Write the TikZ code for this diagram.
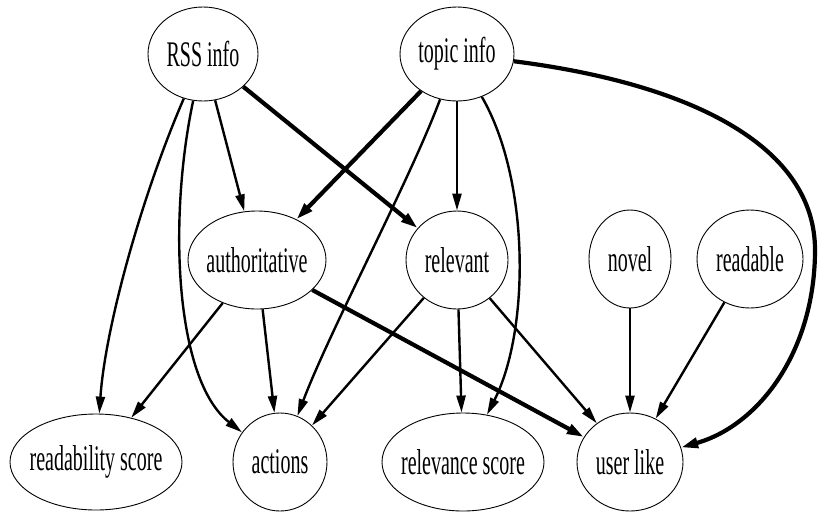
\documentclass[tikz,border=0pt]{standalone}
\usepackage{fontspec}
\setmainfont{Liberation Serif}
\usetikzlibrary{shapes.geometric,arrows.meta}

\begin{document}
\begin{tikzpicture}[x=1pt,y=-1pt,
  var/.style={ellipse,draw,line width=0.9pt,inner sep=0pt},
  edge/.style={-{Triangle[length=17pt,width=9pt]},line width=2.4pt},
  heavy/.style={-{Triangle[length=17pt,width=10pt]},line width=4.2pt},
]
\useasboundingbox (0,0) rectangle (819,512);
\newcommand\nodetext[1]{\makebox[0pt]{\raisebox{-2pt}{\scalebox{1}[1.8]{\fontsize{20}{20}\selectfont #1}}}}

% variables
\node[var,minimum width=110pt,minimum height=94pt] (rss)      at (203,54)  {\nodetext{RSS info}};
\node[var,minimum width=114pt,minimum height=94pt] (topic)    at (457,54)  {\nodetext{topic info}};
\node[var,minimum width=138pt,minimum height=98pt] (auth)     at (257,260) {\nodetext{authoritative}};
\node[var,minimum width=102pt,minimum height=98pt] (relevant) at (457,260) {\nodetext{relevant}};
\node[var,minimum width=82pt, minimum height=98pt] (novel)    at (630,259) {\nodetext{novel}};
\node[var,minimum width=106pt,minimum height=98pt] (readable) at (750,259) {\nodetext{readable}};
\node[var,minimum width=172pt,minimum height=96pt] (rscore)   at (96,462)  {\nodetext{readability score}};
\node[var,minimum width=94pt, minimum height=98pt] (actions)  at (280,462) {\nodetext{actions}};
\node[var,minimum width=162pt,minimum height=98pt] (relscore) at (463,462) {\nodetext{relevance score}};
\node[var,minimum width=106pt,minimum height=98pt] (userlike) at (630,462) {\nodetext{user like}};

% dependencies
\draw[edge] (rss) .. controls (140,200) and (105,330) .. (rscore);
\draw[edge] (rss) .. controls (168,220) and (175,380) .. (actions);
\draw[edge] (rss) -- (auth);
\draw[heavy] (rss) -- (relevant);

\draw[heavy] (topic) -- (auth);
\draw[edge] (topic) .. controls (410,180) and (330,330) .. (actions);
\draw[edge] (topic) -- (relevant);
\draw[edge] (topic) .. controls (530,180) and (530,330) .. (relscore);
\draw[heavy] (topic) .. controls (700,85) and (815,150) .. (815,250)
                     .. controls (815,350) and (760,425) .. (userlike);

\draw[edge] (auth) -- (rscore);
\draw[edge] (auth) -- (actions);
\draw[heavy] (auth) -- (userlike);

\draw[edge] (relevant) -- (actions);
\draw[edge] (relevant) -- (relscore);
\draw[edge] (relevant) -- (userlike);

\draw[edge] (novel) -- (userlike);
\draw[edge] (readable) -- (userlike);
\end{tikzpicture}
\end{document}
